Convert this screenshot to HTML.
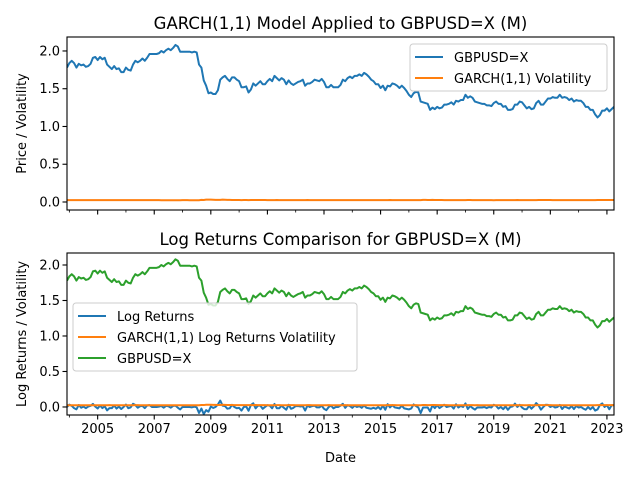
<!DOCTYPE html>
<html><head><meta charset="utf-8"><style>
body{margin:0;background:#fff}
svg text{font-family:"DejaVu Sans","Liberation Sans",sans-serif;fill:#000}
</style></head><body>
<svg id="chart" width="640" height="480" viewBox="0 0 640 480" xmlns="http://www.w3.org/2000/svg"></svg>
<script>
const startYear = 2003, startMonth = 12;
const prices = [1.78,
1.84,1.87,1.84,1.78,1.83,1.81,1.82,1.79,1.80,1.83,1.91,1.92,
1.88,1.92,1.89,1.91,1.82,1.79,1.76,1.80,1.76,1.77,1.72,1.72,
1.78,1.75,1.74,1.82,1.87,1.85,1.87,1.90,1.87,1.91,1.96,1.96,
1.96,1.96,1.97,2.00,1.98,2.01,2.03,2.01,2.04,2.08,2.06,1.99,
1.99,1.99,1.99,1.99,1.98,1.99,1.98,1.82,1.78,1.61,1.54,1.44,
1.45,1.43,1.43,1.48,1.62,1.65,1.67,1.63,1.60,1.65,1.65,1.62,
1.60,1.52,1.52,1.53,1.45,1.49,1.57,1.54,1.57,1.60,1.56,1.56,
1.60,1.63,1.60,1.67,1.64,1.61,1.64,1.62,1.56,1.61,1.57,1.55,
1.57,1.59,1.60,1.62,1.54,1.57,1.57,1.59,1.62,1.61,1.60,1.63,
1.59,1.52,1.52,1.55,1.52,1.52,1.52,1.55,1.62,1.60,1.64,1.66,
1.64,1.67,1.67,1.69,1.67,1.71,1.69,1.66,1.62,1.60,1.56,1.56,
1.51,1.54,1.48,1.54,1.53,1.57,1.56,1.54,1.51,1.54,1.51,1.47,
1.42,1.39,1.44,1.46,1.45,1.33,1.32,1.31,1.30,1.22,1.25,1.23,
1.26,1.24,1.25,1.29,1.29,1.30,1.32,1.29,1.34,1.33,1.35,1.35,
1.42,1.38,1.40,1.38,1.33,1.32,1.31,1.30,1.30,1.28,1.28,1.27,
1.31,1.33,1.30,1.30,1.26,1.27,1.22,1.22,1.23,1.29,1.29,1.33,
1.32,1.28,1.24,1.26,1.23,1.24,1.31,1.34,1.29,1.29,1.33,1.37,
1.37,1.39,1.38,1.38,1.42,1.38,1.39,1.38,1.35,1.37,1.33,1.35,
1.34,1.34,1.31,1.26,1.26,1.22,1.22,1.16,1.12,1.15,1.21,1.21,
1.24,1.20,1.23,1.26];
const yTicks = [0.0,0.5,1.0,1.5,2.0];
const yTickLabels = ["0.0","0.5","1.0","1.5","2.0"];
const xTickYears = [2005,2007,2009,2011,2013,2015,2017,2019,2021,2023];

const svg = document.getElementById('chart');
const NS = 'http://www.w3.org/2000/svg';
function mk(tag, attrs, parent){const e=document.createElementNS(NS,tag);for(const k in attrs)e.setAttribute(k,attrs[k]);(parent||svg).appendChild(e);return e;}

const dates = prices.map((p,i)=>startYear+(startMonth-1+i)/12);
const logRet = prices.map((p,i)=>i===0?0:Math.log(p/prices[i-1]));
// GARCH(1,1) recursion
const vol = []; let v = 0.0006;
for(let i=0;i<logRet.length;i++){ if(i>0) v = 0.00012+0.03*logRet[i-1]*logRet[i-1]+0.78*v; vol.push(Math.sqrt(v)); }

const X0=67, X1=614, T0=dates[0], T1=dates[dates.length-1];
const xs = t => X0 + (t-T0)/(T1-T0)*(X1-X0);
const C={blue:'#1f77b4',orange:'#ff7f0e',green:'#2ca02c'};

function panel(top,bottom,ymin,ymax,name,title,ylabel,showXLabels,series,legend){
  const g=mk('g',{});
  
  
  const ys = val => bottom-(val-ymin)/(ymax-ymin)*(bottom-top);
  const clipId='clip-'+name;
  const cp=mk('clipPath',{id:clipId},g); mk('rect',{x:X0,y:top,width:X1-X0,height:bottom-top},cp);
  series.forEach(s=>{
    const d=s.vals.map((val,i)=>(i?'L':'M')+xs(dates[i]).toFixed(2)+','+ys(val).toFixed(2)).join('');
    const p=mk('path',{d:d,fill:'none',stroke:s.color,'stroke-width':2,'stroke-linejoin':'round','clip-path':'url(#'+clipId+')'},g);
    
    
  });
  mk('rect',{x:X0,y:top,width:X1-X0,height:bottom-top,fill:'none',stroke:'#000','stroke-width':1.1},g);
  yTicks.forEach((t,i)=>{const y=ys(t);mk('line',{x1:X0-4.5,x2:X0,y1:y,y2:y,stroke:'#000','stroke-width':1.1},g);
    const tx=mk('text',{x:X0-7,y:y+4.5,'text-anchor':'end','font-size':13},g);tx.textContent=yTickLabels[i];
    
    });
  for(let yr=2004;yr<=2023;yr++){const x=xs(yr);const major=xTickYears.includes(yr);
    mk('line',{x1:x,x2:x,y1:bottom,y2:bottom+(major?4.5:2.5),stroke:'#000','stroke-width':major?1.1:0.8},g);
    if(major&&showXLabels){const tx=mk('text',{x:x,y:bottom+18,'text-anchor':'middle','font-size':13},g);tx.textContent=yr;
      
      }}
  const tt=mk('text',{x:(X0+X1)/2,y:top-8,'text-anchor':'middle','font-size':16.5},g);tt.textContent=title;
  
  
  const yl=mk('text',{x:0,y:0,'text-anchor':'middle','font-size':13,transform:`translate(${X0-41},${(top+bottom)/2}) rotate(-90)`},g);yl.textContent=ylabel;
  
  
  const lg=mk('g',{},g);
  
  
  mk('rect',{x:legend.x,y:legend.y,width:legend.w,height:legend.items.length*21+5,rx:3,fill:'#fff','fill-opacity':0.8,stroke:'#ccc','stroke-width':1},lg);
  legend.items.forEach((it,i)=>{const yy=legend.y+13+i*21;
    mk('line',{x1:legend.x+5,x2:legend.x+33,y1:yy,y2:yy,stroke:it.color,'stroke-width':2},lg);
    const tx=mk('text',{x:legend.x+44,y:yy+5,'font-size':13},lg);tx.textContent=it.label;
    
    });
}
panel(37,210,-0.106,2.185,'price-panel','GARCH(1,1) Model Applied to GBPUSD=X (M)','Price / Volatility',false,
 [{vals:prices,color:C.blue,name:'price-line'},{vals:vol,color:C.orange,name:'volatility-line'}],
 {x:410,y:44,w:197,items:[{label:'GBPUSD=X',color:C.blue},{label:'GARCH(1,1) Volatility',color:C.orange}]});
panel(253,415,-0.113,2.169,'returns-panel','Log Returns Comparison for GBPUSD=X (M)','Log Returns / Volatility',true,
 [{vals:logRet,color:C.blue,name:'log-returns-line'},{vals:vol,color:C.orange,name:'returns-volatility-line'},{vals:prices,color:C.green,name:'price-line-2'}],
 {x:73,y:303,w:284,items:[{label:'Log Returns',color:C.blue},{label:'GARCH(1,1) Log Returns Volatility',color:C.orange},{label:'GBPUSD=X',color:C.green}]});
const xl=mk('text',{x:(X0+X1)/2,y:462,'text-anchor':'middle','font-size':13});xl.textContent='Date';


</script>
</body></html>
